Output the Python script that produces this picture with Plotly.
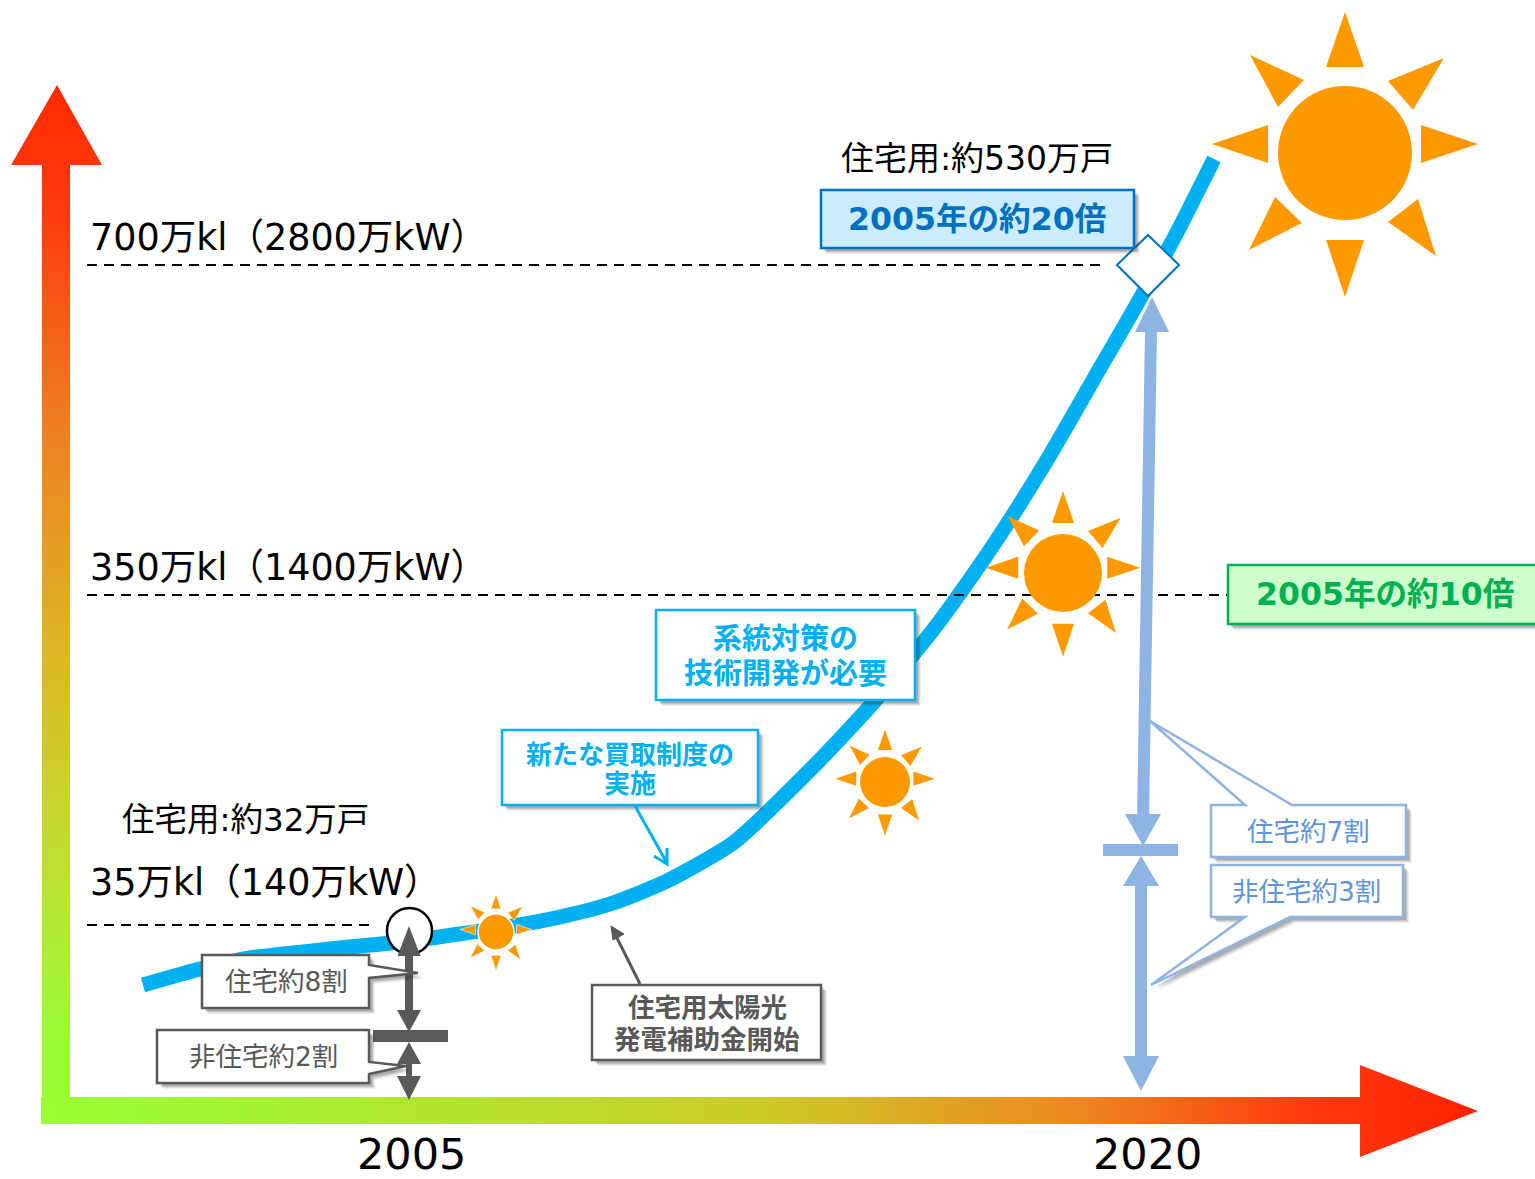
import plotly.graph_objects as go

W, H = 1535, 1179
SANS = "DejaVu Sans, Noto Sans CJK JP, sans-serif"
GREY, SKY, STEEL, PALE, ORANGE = "#595959", "#00B0F0", "#0070C0", "#8EB4E3", "#FF9900"
GREEN = "#00B050"

# --- the deployment curve (diagram coordinates)
curve_x = [143, 200, 250, 330, 409, 513, 560, 613, 667, 733, 813, 873, 933, 953, 1000, 1050, 1100, 1129, 1173, 1214]
curve_y = [985, 969, 958, 949, 941, 926, 917, 903, 881, 843, 767, 703, 630, 603, 535, 455, 368, 318, 240, 159]

# --- guide levels
level_names = ["700万kl（2800万kW）", "350万kl（1400万kW）", "35万kl（140万kW）"]
level_y = [265, 595, 925]
level_x_end = [1105, 1228, 372]
level_label_y = [237, 567, 882]

# --- time axis labels
year_labels = ["2005", "2020"]
year_x = [411, 1147]

# --- suns: centre x, centre y, disc radius
sun_x = [1345, 1063, 885, 496]
sun_y = [153, 573, 782, 932]
sun_r = [67, 39, 25, 18]
# ray triangles relative to the biggest sun's centre
rays = [
    [(0, -141), (-19, -86), (19, -86)],
    [(0, 144), (-19, 87), (19, 87)],
    [(-133, -9), (-77, -28), (-77, 10)],
    [(133, -9), (76, -28), (76, 10)],
    [(-95, -98), (-41, -73), (-67, -46)],
    [(99, -95), (43, -72), (68, -43)],
    [(-96, 97), (-70, 44), (-43, 70)],
    [(91, 103), (73, 46), (43, 69)],
]

fig = go.Figure()

# gradient axes
v_axis_x = [42, 42, 11, 57, 102, 70, 70, 42]
v_axis_y = [1124, 165, 165, 85, 165, 165, 1124, 1124]
h_axis_x = [41, 1360, 1360, 1478, 1360, 1360, 41, 41]
h_axis_y = [1097, 1097, 1065, 1111, 1157, 1124, 1124, 1097]
fig.add_trace(go.Scatter(
    x=v_axis_x, y=v_axis_y, mode="lines", line=dict(width=0), fill="toself",
    fillgradient=dict(type="vertical", colorscale=[
        [0, "#99FF33"], [0.07, "#99FF33"], [0.25, "#BFE030"], [0.45, "#DCB825"],
        [0.67, "#EE8020"], [0.88, "#FF3A10"], [1, "#FF2A00"]]),
    hoverinfo="skip", showlegend=False))
fig.add_trace(go.Scatter(
    x=h_axis_x, y=h_axis_y, mode="lines", line=dict(width=0), fill="toself",
    fillgradient=dict(type="horizontal", colorscale=[
        [0, "#99FF33"], [0.15, "#A4F230"], [0.5, "#CCCC26"], [0.72, "#EE8820"],
        [0.88, "#FF3A10"], [1, "#FF2000"]]),
    hoverinfo="skip", showlegend=False))

# curve
fig.add_trace(go.Scatter(x=curve_x, y=curve_y, mode="lines",
                         line=dict(color=SKY, width=15, shape="spline", smoothing=0.6),
                         hoverinfo="skip", showlegend=False))

shapes = []


def poly(points, fill="rgba(0,0,0,0)", line=None, width=0, closed=True):
    d = "M" + " L".join(f"{x},{y}" for x, y in points) + (" Z" if closed else "")
    shapes.append(dict(type="path", path=d, xref="x", yref="y", layer="above", fillcolor=fill,
                       line=dict(color=line or "rgba(0,0,0,0)", width=width)))


def shadow_poly(points):
    for off, a in [(6, 0.07), (5, 0.10), (4, 0.14), (3, 0.14)]:
        poly([(x + off, y + off) for x, y in points], fill=f"rgba(40,40,40,{a})")


def box(x0, y0, x1, y1, stroke, fill="#FFFFFF", width=2.5, pointer=None, side=None):
    pts = [(x0, y0), (x1, y0), (x1, y1), (x0, y1)]
    if pointer and side == "right":
        pts = [(x0, y0), (x1, y0), pointer[0], pointer[1], pointer[2], (x1, y1), (x0, y1)]
    elif pointer and side == "top":
        pts = [(x0, y0), pointer[0], pointer[1], pointer[2], (x1, y0), (x1, y1), (x0, y1)]
    elif pointer and side == "bottom":
        pts = [(x0, y0), (x1, y0), (x1, y1), pointer[2], pointer[1], pointer[0], (x0, y1)]
    shadow_poly(pts)
    poly(pts, fill=fill, line=stroke, width=width)


def rect(x0, y0, x1, y1, fill):
    poly([(x0, y0), (x1, y0), (x1, y1), (x0, y1)], fill=fill)


def tri(tip, base_y, half, fill):
    poly([tip, (tip[0] - half, base_y), (tip[0] + half, base_y)], fill=fill)


# dashed guide lines
for yy, xe in zip(level_y, level_x_end):
    shapes.append(dict(type="line", x0=87, x1=xe, y0=yy, y1=yy, xref="x", yref="y", layer="above",
                       line=dict(color="#000000", width=2, dash="10px,7px")))

# suns
for cx, cy, r in zip(sun_x, sun_y, sun_r):
    k = r / sun_r[0]
    outline = "#FFFFFF" if r < 20 else None
    for tr in rays:
        poly([(cx + k * dx, cy + k * dy) for dx, dy in tr], fill=ORANGE, line=outline, width=0.6 if outline else 0)
    shapes.append(dict(type="circle", x0=cx - r, x1=cx + r, y0=cy - r, y1=cy + r, xref="x", yref="y", layer="above",
                       fillcolor=ORANGE, line=dict(color=outline or ORANGE, width=1.5 if outline else 0)))

# 2005 marker circle and 2020 diamond
shapes.append(dict(type="circle", x0=387, x1=432, y0=908, y1=954, xref="x", yref="y", layer="above",
                   fillcolor="#FFFFFF", line=dict(color="#000000", width=2.5)))
poly([(1148, 235), (1179, 265), (1148, 296), (1117, 265)], fill="#FFFFFF", line=STEEL, width=2)

# 2005 share arrows
rect(405, 950, 413, 1015, GREY)
tri((409, 926), 956, 11.5, GREY)
tri((409, 1032), 1010, 12, GREY)
rect(373, 1030, 448, 1042, GREY)
tri((409, 1042), 1064, 12, GREY)
rect(406, 1060, 412, 1080, GREY)
tri((409, 1100), 1076, 12, GREY)

# 2020 share arrows
poly([(1145, 330), (1157, 330), (1149, 818), (1137, 818)], fill=PALE)
tri((1152, 297), 332, 17, PALE)
tri((1143, 846), 814, 18, PALE)
rect(1103, 844, 1178, 856, PALE)
tri((1141, 856), 886, 18, PALE)
rect(1135, 884, 1147, 1060, PALE)
tri((1141, 1091), 1056, 18, PALE)

# callouts
box(202, 955, 369, 1008, GREY, pointer=[(369, 965), (418, 973), (369, 978)], side="right")
box(157, 1030, 369, 1083, GREY, pointer=[(369, 1062), (406, 1066), (369, 1074)], side="right")
box(1211, 805, 1406, 857, PALE, pointer=[(1245, 805), (1150, 721), (1292, 805)], side="top")
box(1211, 865, 1403, 917, PALE, pointer=[(1245, 917), (1151, 985), (1290, 917)], side="bottom")

# note boxes
box(502, 730, 758, 805, SKY)
box(656, 610, 915, 700, SKY)
box(592, 985, 821, 1060, GREY)
box(821, 190, 1134, 248, STEEL, fill="#CCECFF")
box(1228, 565, 1545, 624, GREEN, fill="#CCFFCC")

# note arrows
poly([(635, 806), (667, 863)], line=SKY, width=3, closed=False)
poly([(654, 856), (667, 864), (667, 848)], line=SKY, width=3, closed=False)
poly([(640, 984), (612, 928)], line=GREY, width=3, closed=False)
poly([(624, 934), (611, 926), (613, 940)], fill=GREY, line=GREY, width=1)

fig.update_layout(shapes=shapes)


def text(s, x, y, size, color="#000000", bold=False, anchor="center"):
    fig.add_annotation(x=x, y=y, xref="x", yref="y", text=f"<b>{s}</b>" if bold else s, showarrow=False,
                       xanchor=anchor, yanchor="middle", font=dict(family=SANS, size=size, color=color))


for name, yy in zip(level_names, level_label_y):
    text(name, 88, yy, 36.5, anchor="left")
for lab, xx in zip(year_labels, year_x):
    text(lab, xx, 1154, 43)

text("住宅用:約530万戸", 977, 158, 33)
text("住宅用:約32万戸", 245, 820, 32.5)
text("住宅約8割", 286, 981, 26.5, GREY)
text("非住宅約2割", 263, 1056, 26.5, GREY)
text("住宅約7割", 1308, 831, 26.5, "#5F94DA")
text("非住宅約3割", 1306, 891, 26.5, "#5F94DA")
text("新たな買取制度の", 630, 755, 26, SKY, True)
text("実施", 630, 784, 26, SKY, True)
text("系統対策の", 785, 639, 29, SKY, True)
text("技術開発が必要", 785, 674, 29, SKY, True)
text("住宅用太陽光", 707, 1007, 26.5, GREY, True)
text("発電補助金開始", 707, 1039, 26.5, GREY, True)
text("2005年の約20倍", 977, 219, 31.6, STEEL, True)
text("2005年の約10倍", 1385, 594, 31.6, GREEN, True)

fig.update_layout(
    width=W, height=H, autosize=False, margin=dict(l=0, r=0, t=0, b=0),
    paper_bgcolor="#FFFFFF", plot_bgcolor="#FFFFFF", showlegend=False, hovermode=False,
    xaxis=dict(range=[0, W], visible=False, fixedrange=True),
    yaxis=dict(range=[H, 0], visible=False, fixedrange=True),
)
fig.write_html("out.html", config={"displayModeBar": False},
               post_script="document.body.style.margin='0';document.body.style.overflow='hidden';")
